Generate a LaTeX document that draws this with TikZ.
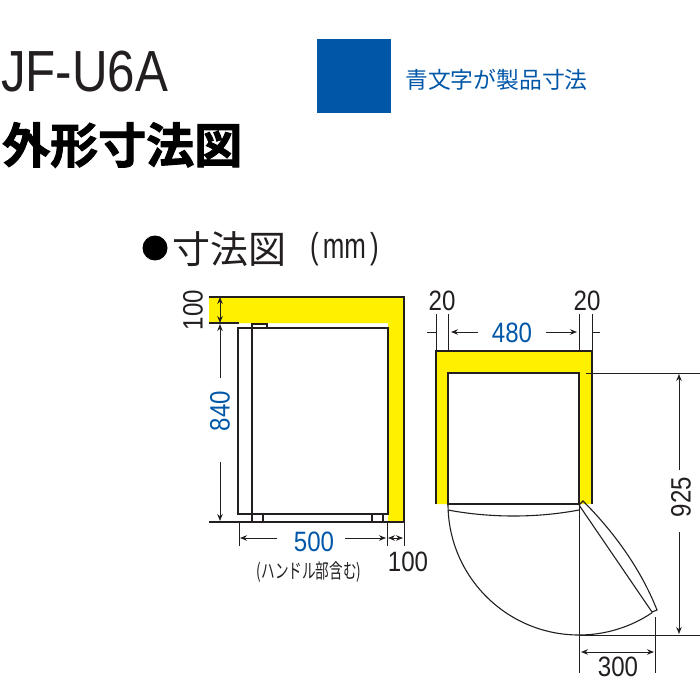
\documentclass[tikz,border=0pt]{standalone}
\usepackage{fontspec}
\usetikzlibrary{arrows.meta}
\setmainfont{Liberation Sans}
\newfontfamily\dimfont[FakeStretch=0.86]{Liberation Sans}
\newfontfamily\modelfont[FakeStretch=0.85]{Liberation Sans}
\newfontfamily\unitfont[FakeStretch=0.72]{Liberation Sans}
\newfontfamily\jpfont{Noto Sans CJK JP}
\newfontfamily\jpnarrow[FakeStretch=0.68]{Noto Sans CJK JP}
\newfontfamily\jpbold[FakeBold=2]{Noto Sans CJK JP Bold}
\newcommand{\fsize}[1]{\fontsize{#1}{#1}\selectfont}
\definecolor{prodblue}{HTML}{0057A8}
\definecolor{markyellow}{HTML}{FFF000}
\definecolor{inkline}{HTML}{231F20}
\tikzset{
  outline/.style = {draw=inkline, line width=1.1pt},
  dimline/.style = {draw=inkline, line width=0.9pt},
  dimtext/.style = {inner sep=0pt, text=inkline, font=\dimfont\fsize{28}},
  bluetext/.style = {inner sep=0pt, text=prodblue, font=\dimfont\fsize{28}},
}
\begin{document}
\begin{tikzpicture}[x=1pt, y=-1pt, >={Stealth[length=7pt, width=5.5pt]}]
        \useasboundingbox (0,0) rectangle (700,700);

        % headings
        \node (model) [anchor=west, inner sep=0pt, text=inkline, font=\modelfont\fsize{58}] at (1,72) {JF-U6A};
        \node (title) [anchor=west, inner sep=0pt, font=\jpbold\fsize{48}] at (2,145) {外形寸法図};
        \node (key) [fill=prodblue, inner sep=0pt, minimum size=74pt] at (354,76) {};
        \node (keytext) [anchor=west, inner sep=0pt, text=prodblue, font=\jpfont\fsize{22.8}] at (405,80) {青文字が製品寸法};
        \node (dot) [circle, fill=black, inner sep=0pt, minimum size=25pt] at (155,248) {};
        \node (sub) [anchor=west, inner sep=0pt, text=inkline, font=\jpfont\fsize{38}] at (172,249) {寸法図};
        \node (unit) [anchor=west, inner sep=0pt, text=inkline, font=\unitfont\fsize{36}] at (310,249) {(\kern4pt mm\kern4pt)};

        % yellow margins
        \fill[markyellow] (209,297) -- (404,297) -- (404,522) -- (388,522) -- (388,323) -- (209,323) -- cycle;
        \fill[markyellow] (436,351) -- (592,351) -- (592,504) -- (579,504) -- (579,373) -- (448,373) -- (448,504) -- (436,504) -- cycle;

        % side view
        \begin{scope}[outline]
          \draw (209,297) -- (404,297) -- (404,522) -- (209,522);
          \draw (209,323) -- (239,323);
          \draw (238,514) -- (238,328) -- (388,328) -- (388,514) -- cycle;
          \draw (252,328) -- (252,514);
          \draw (252,328) -- (252,324) -- (267,324) -- (267,328);
          \draw (252,514) rectangle (263,522);
          \draw (372,514) rectangle (383,522);
        \end{scope}

        % front view with doors
        \begin{scope}[outline]
          \draw (436,504) -- (436,351) -- (592,351) -- (592,504);
          \draw (448,504) -- (448,373) -- (579,373) -- (579,504) -- cycle;
          \draw (448,504) arc[start angle=180, end angle=56, radius=131];
          \draw (448,510) .. controls (490,518) and (537,518) .. (579,510);
          \draw (579,505) -- (652,612) -- (657,610) .. controls (640,567) and (612,530) .. (583,501) -- (579,505);
        \end{scope}

        % extension lines
        \begin{scope}[dimline]
          \draw (436,314) -- (436,351);
          \draw (448,314) -- (448,351);
          \draw (579,314) -- (579,351);
          \draw (592,314) -- (592,351);
          \draw (427,332) -- (436,332);
          \draw (592,332) -- (600,332);
          \draw (586,373) -- (700,373);
          \draw (579,635) -- (700,635);
          \draw (579,504) -- (579,673);
          \draw (655,617) -- (655,673);
          \draw (239,522) -- (239,546);
          \draw (387,522) -- (387,546);
          \draw (404,522) -- (404,546);
        \end{scope}

        % dimension arrows
        \begin{scope}[dimline, ->]
          \draw (220,310) -- (220,297);
          \draw (220,310) -- (220,323);
          \draw (220,378) -- (220,324);
          \draw (220,462) -- (220,521);
          \draw (277,538) -- (240,538);
          \draw (345,538) -- (386,538);
          \draw (396,538) -- (388,538);
          \draw (396,538) -- (403,538);
          \draw (478,332) -- (451,332);
          \draw (546,332) -- (577,332);
          \draw (679,470) -- (679,374);
          \draw (679,532) -- (679,634);
          \draw (617,652) -- (581,652);
          \draw (617,652) -- (654,652);
        \end{scope}

        % labels
        \node (h100) [dimtext, rotate=90] at (193,310) {100};
        \node (h840) [bluetext, rotate=90] at (220,411) {840};
        \node (w500) [bluetext] at (314,542) {500};
        \node (d100) [dimtext] at (408,562) {100};
        \node (note) [inner sep=0pt, text=inkline, font=\jpnarrow\fsize{20}] at (309,572) {(ハンドル部含む)};
        \node (w20a) [dimtext] at (442,301) {20};
        \node (w20b) [dimtext] at (587,301) {20};
        \node (w480) [bluetext] at (512,333) {480};
        \node (h925) [dimtext, rotate=90] at (681,497) {925};
        \node (d300) [dimtext] at (618,667) {300};

      \end{tikzpicture}
\end{document}
